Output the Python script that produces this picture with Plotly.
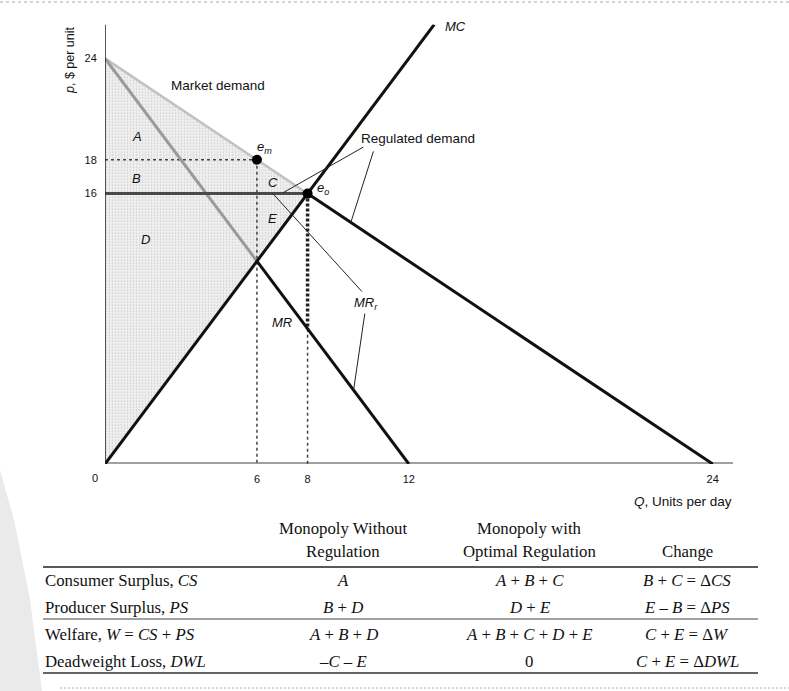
import plotly.graph_objects as go

# ---- model data: linear demand p = 24 - Q, MC = 2Q, price cap at 16 ----
market_demand_q = [0, 8]
market_demand_p = [24, 16]
regulated_demand_q = [8, 24]
regulated_demand_p = [16, 0]
price_cap_q = [0, 8]
price_cap_p = [16, 16]
mr_upper_q = [0, 6]
mr_upper_p = [24, 12]
mr_lower_q = [6, 12]
mr_lower_p = [12, 0]
mc_q = [0, 13]
mc_p = [0, 26]
welfare_q = [0, 8, 0, 0]
welfare_p = [24, 16, 0, 24]
monopoly_q, monopoly_p = 6, 18
optimum_q, optimum_p = 8, 16
mr_gap_p = [16, 8]

x_ticks = [6, 8, 12, 24]
y_ticks = [16, 18, 24]

# ---- comparison table ----
col_headers = ["Monopoly Without<br>Regulation", "Monopoly with<br>Optimal Regulation", "Change"]
row_labels = ["Consumer Surplus, <i>CS</i>", "Producer Surplus, <i>PS</i>",
              "Welfare, <i>W</i> = <i>CS</i> + <i>PS</i>", "Deadweight Loss, <i>DWL</i>"]
col_unregulated = ["<i>A</i>", "<i>B</i> + <i>D</i>", "<i>A</i> + <i>B</i> + <i>D</i>", "\u2013<i>C</i> \u2013 <i>E</i>"]
col_regulated = ["<i>A</i> + <i>B</i> + <i>C</i>", "<i>D</i> + <i>E</i>",
                 "<i>A</i> + <i>B</i> + <i>C</i> + <i>D</i> + <i>E</i>", "0"]
col_change = ["<i>B</i> + <i>C</i> = \u0394<i>CS</i>", "<i>E</i> \u2013 <i>B</i> = \u0394<i>PS</i>",
              "<i>C</i> + <i>E</i> = \u0394<i>W</i>", "<i>C</i> + <i>E</i> = \u0394<i>DWL</i>"]

W, H = 789, 691
SANS = "Liberation Sans"
SERIF = "Liberation Serif"
TABLE_SIZE = 16.8


def px(x):
    return x / W


def py(y):
    return 1 - y / H


def paper_text(x, y, text, family, size, xanchor="center", angle=0):
    fig.add_annotation(x=px(x), y=py(y), xref="paper", yref="paper", text=text,
                       xanchor=xanchor, yanchor="middle", textangle=angle, showarrow=False,
                       font=dict(family=family, size=size, color="#111111"))


fig = go.Figure()

# shaded welfare triangle
fig.add_trace(go.Scatter(
    x=welfare_q, y=welfare_p, mode="lines", fill="toself",
    line=dict(width=0), fillcolor="#f0f0f0",
    fillpattern=dict(shape=".", fgcolor="#a8a8a8", bgcolor="#f1f1f1", size=3, solidity=0.25),
    hoverinfo="skip"))

dot = dict(color="#444444", width=1.5, dash="dot")
fig.add_trace(go.Scatter(x=[0, monopoly_q], y=[monopoly_p, monopoly_p], mode="lines", line=dot))
fig.add_trace(go.Scatter(x=[monopoly_q, monopoly_q], y=[monopoly_p, 0], mode="lines", line=dot))
fig.add_trace(go.Scatter(x=[optimum_q, optimum_q], y=[mr_gap_p[1], 0], mode="lines", line=dot))
fig.add_trace(go.Scatter(x=[optimum_q, optimum_q], y=mr_gap_p, mode="lines",
                         line=dict(color="#222222", width=3.5, dash="3px,2px")))

# curves
fig.add_trace(go.Scatter(x=market_demand_q, y=market_demand_p, mode="lines",
                         line=dict(color="#c2c2c2", width=2.5)))
fig.add_trace(go.Scatter(x=mr_upper_q, y=mr_upper_p, mode="lines",
                         line=dict(color="#9a9a9a", width=3)))
fig.add_trace(go.Scatter(x=price_cap_q, y=price_cap_p, mode="lines",
                         line=dict(color="#4a4a4a", width=3)))
fig.add_trace(go.Scatter(x=mr_lower_q, y=mr_lower_p, mode="lines",
                         line=dict(color="#111111", width=3)))
fig.add_trace(go.Scatter(x=regulated_demand_q, y=regulated_demand_p, mode="lines",
                         line=dict(color="#111111", width=3)))
fig.add_trace(go.Scatter(x=mc_q, y=mc_p, mode="lines",
                         line=dict(color="#111111", width=3)))

# leader lines from labels to curves
leaders = [((10.2, 18.75), (7.03, 16.05)),
           ((10.6, 18.5), (9.72, 14.35)),
           ((10.15, 10.2), (6.63, 16.0)),
           ((10.26, 8.9), (9.82, 4.4))]
for (x0, y0), (x1, y1) in leaders:
    fig.add_trace(go.Scatter(x=[x0, x1], y=[y0, y1], mode="lines",
                             line=dict(color="#222222", width=1)))

# equilibrium points
fig.add_trace(go.Scatter(x=[monopoly_q, optimum_q], y=[monopoly_p, optimum_p], mode="markers",
                         marker=dict(color="black", size=10)))

# axes drawn as lines
fig.add_shape(type="line", x0=0, y0=0, x1=24.8, y1=0, xref="x", yref="y",
              line=dict(color="#a0a0a0", width=4), layer="below")
fig.add_shape(type="line", x0=0, y0=0, x1=0, y1=26, xref="x", yref="y",
              line=dict(color="#222222", width=1.5))


# curve and region labels
def label(x, y, text, size=13, italic=False):
    t = f"<i>{text}</i>" if italic else text
    fig.add_annotation(x=x, y=y, text=t, showarrow=False, xref="x", yref="y",
                       xanchor="center", yanchor="middle",
                       font=dict(family=SANS, size=size, color="#111111"))


label(4.46, 22.4, "Market demand", 13.5)
label(12.36, 19.25, "Regulated demand", 13.5)
label(1.26, 19.4, "A", 13, True)
label(1.26, 16.9, "B", 13, True)
label(6.63, 16.65, "C", 13, True)
label(1.58, 13.3, "D", 13, True)
label(6.6, 14.55, "E", 13, True)
label(6.3, 18.7, "e<sub>m</sub>", 13, True)
label(8.62, 16.3, "e<sub>o</sub>", 13, True)
label(13.85, 25.9, "MC", 13, True)
label(7.0, 8.4, "MR", 13, True)
label(10.3, 9.5, "MR<sub>r</sub>", 13, True)

# axis titles and origin label
paper_text(70, 60, "<i>p</i>, $ per unit", SANS, 12.5, angle=-90)
paper_text(734, 502, "<i>Q</i>, Units per day", SANS, 13.5, xanchor="right")
paper_text(95, 478, "0", SANS, 11)

# table
col_x = [343, 529, 687]
for cx, head in zip(col_x, col_headers):
    lines = head.split("<br>")
    if len(lines) == 1:
        lines = ["", lines[0]]
    for ly, txt in zip([528, 551], lines):
        if txt:
            paper_text(cx, ly, txt, SERIF, TABLE_SIZE)

row_y = [580, 607, 634, 661]
for ry, lab, a, b, c in zip(row_y, row_labels, col_unregulated, col_regulated, col_change):
    paper_text(43, ry, lab, SERIF, TABLE_SIZE, xanchor="left")
    for cx, txt in zip(col_x, [a, b, c]):
        paper_text(cx, ry, txt, SERIF, TABLE_SIZE)

for ly, w, c in [(567, 1.6, "#222222"), (619, 1.0, "#444444"), (673, 1.6, "#333333")]:
    fig.add_shape(type="line", xref="paper", yref="paper", x0=px(43), x1=px(758),
                  y0=py(ly), y1=py(ly), line=dict(color=c, width=w))
fig.add_shape(type="line", xref="paper", yref="paper", x0=px(60), x1=1, y0=py(688), y1=py(688),
              line=dict(color="#aaaaaa", width=1, dash="2px,2px"))

# page edge shading on the left and faint top edge
fig.add_shape(type="path", xref="paper", yref="paper",
              path=f"M 0 {py(470)} L {px(14)} {py(520)} L {px(30)} {py(600)} L {px(42)} {py(691)} L 0 {py(691)} Z",
              fillcolor="rgba(160,160,160,0.22)", line=dict(width=0), layer="below")
fig.add_shape(type="line", xref="paper", yref="paper", x0=0, x1=1, y0=py(2), y1=py(2),
              line=dict(color="#aaaaaa", width=1, dash="dot"))

fig.update_layout(
    width=W, height=H, margin=dict(l=0, r=0, t=0, b=0),
    paper_bgcolor="white", plot_bgcolor="rgba(0,0,0,0)", showlegend=False,
    xaxis=dict(domain=[105 / W, 733 / W], range=[0, 24.8], showgrid=False, zeroline=False,
               showline=False, tickvals=x_ticks, ticks="outside", ticklen=5,
               tickcolor="rgba(0,0,0,0)", tickfont=dict(family=SANS, size=11, color="#111111")),
    yaxis=dict(domain=[(H - 464) / H, (H - 24.6) / H], range=[0, 26], showgrid=False,
               zeroline=False, showline=False, tickvals=y_ticks, ticks="outside", ticklen=5,
               tickcolor="rgba(0,0,0,0)", tickfont=dict(family=SANS, size=11, color="#111111")),
)

fig.write_html("out.html")
